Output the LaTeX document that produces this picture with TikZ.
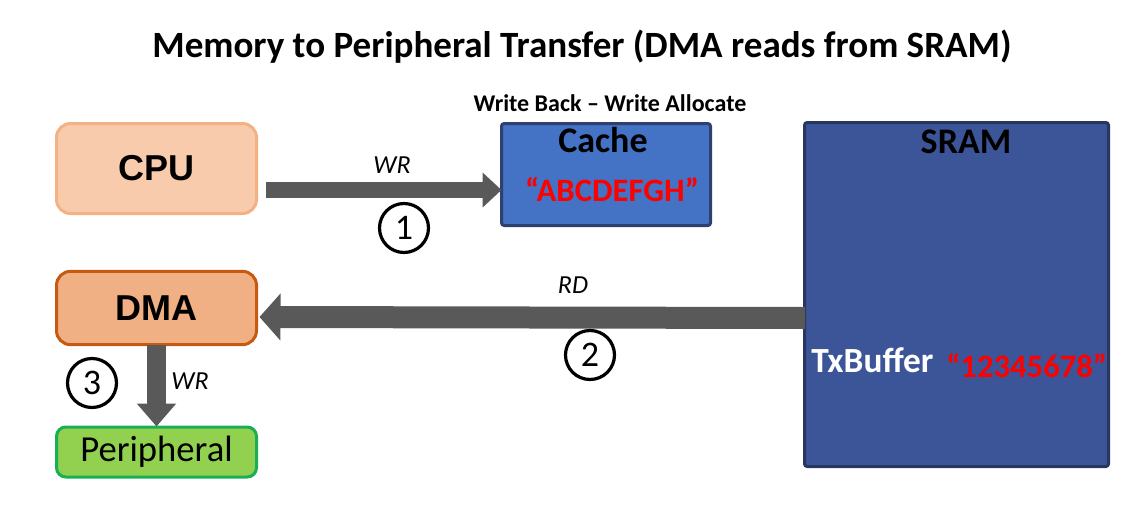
\documentclass[tikz,border=0pt]{standalone}
\usepackage{fontspec}
\setmainfont{Carlito}
\newfontfamily\arialfont{Liberation Sans}
\usetikzlibrary{arrows.meta,calc}
\definecolor{cpufill}{HTML}{F8CBAD}
\definecolor{cpudraw}{HTML}{F4B183}
\definecolor{dmafill}{HTML}{F0B084}
\definecolor{dmadraw}{HTML}{C55A11}
\definecolor{perfill}{HTML}{92D050}
\definecolor{perdraw}{HTML}{1AAF54}
\definecolor{cachefill}{HTML}{4472C4}
\definecolor{cachedraw}{HTML}{2F3F6F}
\definecolor{sramfill}{HTML}{3C5598}
\definecolor{sramdraw}{HTML}{27375F}
\definecolor{arrowgray}{HTML}{595959}
\definecolor{txtred}{HTML}{FF0000}
\begin{document}
\begin{tikzpicture}[x=0.75pt,y=-0.75pt,
  rbox/.style={draw, line width=2.25pt, rounded corners=10.5pt, inner sep=0pt, minimum width=150pt},
  sbox/.style={draw, line width=2.25pt, rounded corners=2pt, inner sep=0pt},
  bigarrow/.style={draw=arrowgray, color=arrowgray},
  stepcircle/.style={circle, draw, line width=2.4pt, minimum size=36.75pt, inner sep=0pt, font=\fontsize{27}{29}\selectfont},
  oplabel/.style={font=\itshape\fontsize{19.5}{22}\selectfont, inner sep=0pt}
]
\useasboundingbox (0,0) rectangle (1140,504);

% title
\node[font=\bfseries\fontsize{27.8}{30}\selectfont] (title) at (582,47) {Memory to Peripheral Transfer (DMA reads from SRAM)};
\node[font=\bfseries\fontsize{18}{20}\selectfont] (policy) at (610,103) {Write Back – Write Allocate};

% boxes
\node[rbox, fill=cpufill, draw=cpudraw, minimum height=67.5pt, font=\arialfont\bfseries\fontsize{27}{30}\selectfont] (cpu) at (156.5,168.5) {CPU};
\node[rbox, fill=dmafill, draw=dmadraw, minimum height=55pt, font=\arialfont\bfseries\fontsize{27}{30}\selectfont] (dma) at (156.5,308) {DMA};
\node[rbox, rounded corners=7pt, fill=perfill, draw=perdraw, minimum height=37.5pt, font=\fontsize{27.5}{30}\selectfont] (per) at (156.5,452) {Peripheral};
\node[sbox, fill=cachefill, draw=cachedraw, minimum width=156.75pt, minimum height=76.5pt] (cache) at (606,174.5) {};
\node[sbox, fill=sramfill, draw=sramdraw, minimum width=228pt, minimum height=258pt] (sram) at (956.5,294.5) {};

% box texts
\node[font=\bfseries\fontsize{27}{30}\selectfont, inner sep=0pt] (cachelbl) at (603,140) {Cache};
\node[font=\bfseries\fontsize{24.5}{27}\selectfont, text=txtred, inner sep=0pt] (cachedata) at (612,190) {“ABCDEFGH”};
\node[font=\bfseries\fontsize{27}{30}\selectfont, inner sep=0pt] (sramlbl) at (966,142) {SRAM};
\node[font=\bfseries\fontsize{26.5}{30}\selectfont, text=white, inner sep=0pt, anchor=base west] (txbuf) at (811,372) {TxBuffer};
\node[font=\bfseries\fontsize{24.5}{30}\selectfont, text=txtred, inner sep=0pt, anchor=base west] (txdata) at (946,377) {“12345678”};

% arrows
\draw[bigarrow, line width=12pt, -{Triangle[length=14.25pt,width=25.5pt]}]
  ($(cpu.east)+(7.5,21.5)$) -- ($(cache.west)+(1.5,15.5)$);
\draw[bigarrow, line width=16.5pt, -{Triangle[length=15.75pt,width=34.5pt]}]
  ($(sram.west)+(2,23.5)$) -- ($(dma.east)+(1.5,9)$);
\draw[bigarrow, line width=14.25pt, -{Triangle[length=17.25pt,width=28.5pt]}]
  ($(dma.south)+(0,-1)$) -- ($(per.north)+(0,1)$);

% labels
\node[oplabel] (wr1) at (392,165) {WR};
\node[oplabel] (rd) at (573,285) {RD};
\node[oplabel] (wr3) at (190,381) {WR};

% step circles
\node[stepcircle] (s1) at (404,228) {1};
\node[stepcircle] (s2) at (590,355) {2};
\node[stepcircle] (s3) at (92,383) {3};
\end{tikzpicture}
\end{document}
